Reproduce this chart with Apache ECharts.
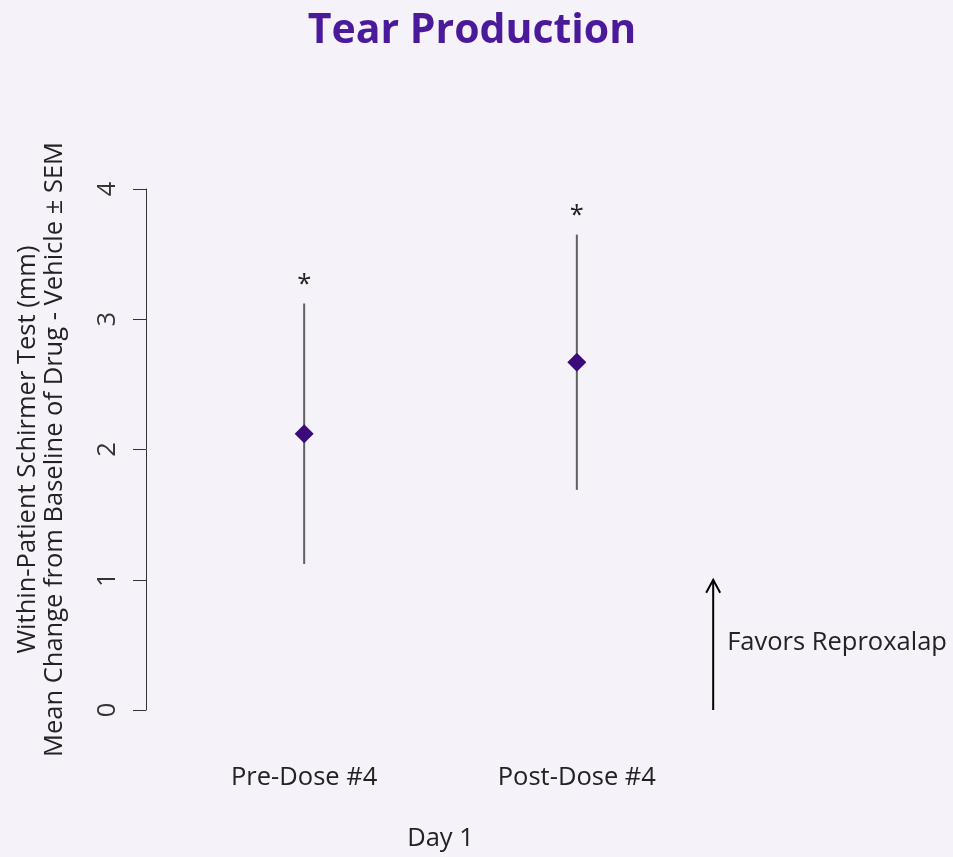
<!DOCTYPE html>
<html>
<head>
<meta charset="utf-8">
<title>Tear Production</title>
<script src="https://cdn.jsdelivr.net/npm/echarts@6/dist/echarts.min.js"></script>
<style>
  html, body { margin: 0; padding: 0; background: #f5f2f9; }
  #chart { width: 953px; height: 857px; }
</style>
</head>
<body>
<div id="chart"></div>
<script>
// Schirmer test: mean change (drug - vehicle) with SEM range
const categories = ['Pre-Dose #4', 'Post-Dose #4'];
const xPositions = [1, 2];
const meanChange = [2.12, 2.67];
const semLow = [1.12, 1.69];
const semHigh = [3.12, 3.65];
const significance = ['*', '*'];
const yTicks = [0, 1, 2, 3, 4];

// "Favors" annotation arrow: x position and value range
const favorsX = 2.5;
const favorsRange = [0, 1];
const favorsText = 'Favors Reproxalap';

const FONT = '"Open Sans", "Noto Sans", sans-serif';
const FS = 25.5;
const TEXT = '#222222';

const chart = echarts.init(document.getElementById('chart'), null, { renderer: 'canvas' });

const errorData = xPositions.map((x, i) => [x, semLow[i], semHigh[i]]);
const meanData = xPositions.map((x, i) => [x, meanChange[i]]);

const option = {
  backgroundColor: '#f5f2f9',
  animation: false,
  title: {
    text: 'Tear Production',
    left: 467,
    top: 6,
    textAlign: 'center',
    textStyle: { fontFamily: FONT, fontSize: 41, fontWeight: 'bold', color: '#4a1a9a' }
  },
  grid: { left: 146, right: 218, top: 189, bottom: 146 },
  xAxis: {
    type: 'value',
    min: 0.42,
    max: 2.58,
    name: 'Day 1',
    nameLocation: 'middle',
    nameGap: 116,
    nameTextStyle: { fontFamily: FONT, fontSize: FS, color: TEXT },
    axisLine: { show: false },
    axisTick: { show: false },
    splitLine: { show: false },
    axisLabel: {
      customValues: xPositions,
      formatter: v => categories[xPositions.indexOf(v)] || '',
      margin: 55,
      fontFamily: FONT,
      fontSize: FS,
      color: TEXT
    }
  },
  yAxis: {
    type: 'value',
    min: yTicks[0],
    max: yTicks[yTicks.length - 1],
    interval: 1,
    name: 'Within-Patient Schirmer Test (mm)\nMean Change from Baseline of Drug - Vehicle \u00b1 SEM',
    nameLocation: 'middle',
    nameRotate: 90,
    nameGap: 78,
    nameTextStyle: { fontFamily: FONT, fontSize: FS, color: TEXT, lineHeight: 27, align: 'center' },
    axisLine: { show: true, lineStyle: { color: '#333333', width: 1 } },
    axisTick: { show: true, length: 13, lineStyle: { color: '#333333', width: 1 } },
    splitLine: { show: false },
    axisLabel: {
      rotate: 90,
      margin: 25,
      fontFamily: FONT,
      fontSize: FS,
      color: '#333333'
    }
  },
  series: [
    {
      type: 'custom',
      name: 'SEM',
      data: errorData,
      z: 2,
      renderItem: (params, api) => {
        const x = api.value(0);
        const lo = api.coord([x, api.value(1)]);
        const hi = api.coord([x, api.value(2)]);
        return {
          type: 'group',
          children: [
            {
              type: 'line',
              shape: { x1: lo[0], y1: lo[1], x2: hi[0], y2: hi[1] },
              style: { stroke: '#606060', lineWidth: 2 }
            },
            {
              type: 'text',
              x: hi[0],
              y: hi[1] - 19,
              style: {
                text: significance[params.dataIndex],
                fontFamily: FONT,
                fontSize: FS,
                fill: TEXT,
                textAlign: 'center',
                textVerticalAlign: 'middle'
              }
            }
          ]
        };
      }
    },
    {
      type: 'scatter',
      name: 'Mean',
      data: meanData,
      symbol: 'diamond',
      symbolSize: 19,
      z: 3,
      itemStyle: { color: '#3b0b7b', opacity: 1 }
    },
    {
      type: 'custom',
      name: 'Favors',
      data: [[favorsX, favorsRange[0], favorsRange[1]]],
      z: 2,
      renderItem: (params, api) => {
        const x = api.value(0);
        const a = api.coord([x, api.value(1)]);
        const b = api.coord([x, api.value(2)]);
        const mid = api.coord([x, (api.value(1) + api.value(2)) / 2]);
        return {
          type: 'group',
          children: [
            {
              type: 'line',
              shape: { x1: a[0], y1: a[1], x2: b[0], y2: b[1] },
              style: { stroke: '#000000', lineWidth: 2 }
            },
            {
              type: 'polyline',
              shape: { points: [[b[0] - 7, b[1] + 13], [b[0], b[1]], [b[0] + 7, b[1] + 13]] },
              style: { stroke: '#000000', lineWidth: 2, fill: null }
            },
            {
              type: 'text',
              x: a[0] + 14,
              y: mid[1] - 2,
              style: {
                text: favorsText,
                fontFamily: FONT,
                fontSize: FS,
                fill: TEXT,
                textAlign: 'left',
                textVerticalAlign: 'middle'
              }
            }
          ]
        };
      }
    }
  ]
};

chart.setOption(option);
</script>
</body>
</html>
